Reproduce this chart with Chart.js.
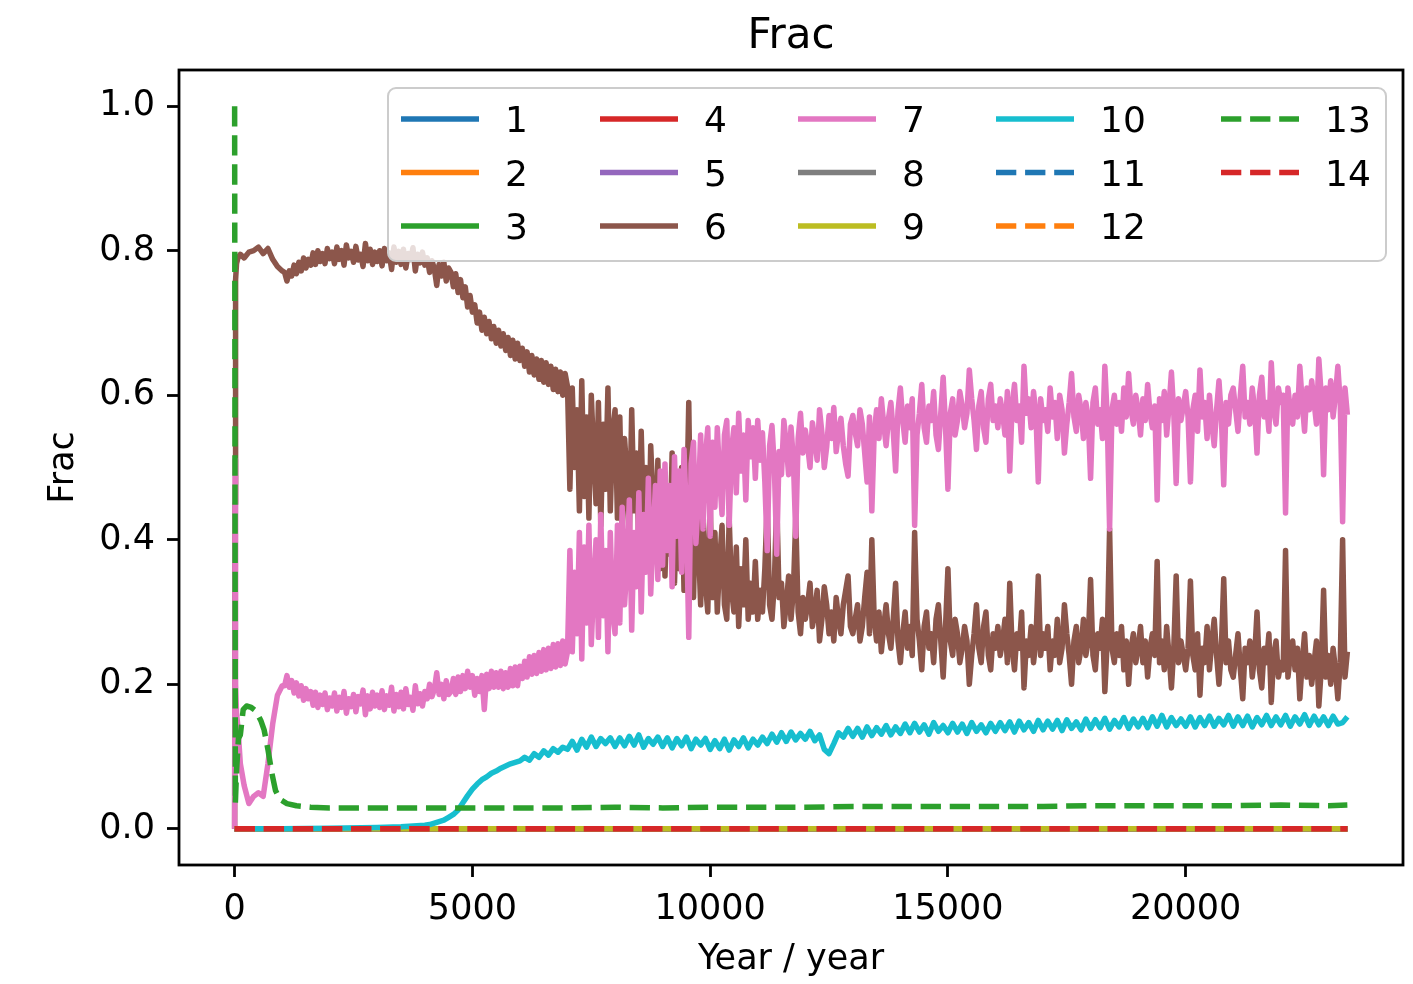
<!DOCTYPE html>
<html>
<head>
<meta charset="utf-8">
<script src="https://cdn.jsdelivr.net/npm/chart.js@4"></script>
<style>
html,body{margin:0;padding:0;background:#fff;}
canvas{display:block;}
</style>
</head>
<body>
<canvas id="c" width="1413" height="984" style="width:1413px;height:984px"></canvas>
<script>
// ---------------- DATA ----------------
const seriesNames = ['1','2','3','4','5','6','7','8','9','10','11','12','13','14'];
const xTicks = [0, 5000, 10000, 15000, 20000];
const yTicks = [0, 0.2, 0.4, 0.6, 0.8, 1.0];

// series that stay at zero (1,2,3,4,5,8,9,11,12,14)
const yearsFlat = [0, 23400];
const fracFlat = [0, 0];

// shared years for series 6 and 7
const yearsMain = [
  0,10,20,40,70,120,200,300,400,500,600,700,800,900,1000,
  1050,1100,1150,1200,1250,1300,1350,1400,1450,1500,1550,1600,1650,1700,1750,1800,1850,1900,1950,2000,
  2050,2100,2150,2200,2250,2300,2350,2400,2450,2500,2550,2600,2650,2700,2750,2800,2850,2900,2950,3000,
  3050,3100,3150,3200,3250,3300,3350,3400,3450,3500,3550,3600,3650,3700,3750,3800,3850,3900,3950,4000,
  4050,4100,4150,4200,4250,4300,4350,4400,4450,4500,4550,4600,4650,4700,4750,4800,4850,4900,4950,5000,
  5050,5100,5150,5200,5250,5300,5350,5400,5450,5500,5550,5600,5650,5700,5750,5800,5850,5900,5950,6000,
  6050,6100,6150,6200,6250,6300,6350,6400,6450,6500,6550,6600,6650,6700,6750,6800,6850,6900,6950,7000,
  7050,7100,7150,7200,7250,7300,7350,7400,7450,7500,7550,7600,7650,7700,7750,7800,7850,7900,7950,8000,
  8050,8100,8150,8200,8250,8300,8350,8400,8450,8500,8550,8600,8650,8700,8750,8800,8850,8900,8950,9000,
  9050,9100,9150,9200,9250,9300,9350,9400,9450,9500,9550,9600,9650,9700,9750,9800,9850,9900,9950,10000,
  10050,10100,10150,10200,10250,10300,10350,10400,10450,10500,10550,10600,10650,10700,10750,10800,10850,10900,10950,11000,
  11050,11100,11150,11200,11250,11300,11350,11400,11450,11500,11550,11600,11650,11700,11750,11800,11850,11900,11950,12000,
  12050,12100,12150,12200,12250,12300,12350,12400,12450,12500,12550,12600,12650,12700,12750,12800,12850,12900,12950,13000,
  13050,13100,13150,13200,13250,13300,13350,13400,13450,13500,13550,13600,13650,13700,13750,13800,13850,13900,13950,14000,
  14050,14100,14150,14200,14250,14300,14350,14400,14450,14500,14550,14600,14650,14700,14750,14800,14850,14900,14950,15000,
  15050,15100,15150,15200,15250,15300,15350,15400,15450,15500,15550,15600,15650,15700,15750,15800,15850,15900,15950,16000,
  16050,16100,16150,16200,16250,16300,16350,16400,16450,16500,16550,16600,16650,16700,16750,16800,16850,16900,16950,17000,
  17050,17100,17150,17200,17250,17300,17350,17400,17450,17500,17550,17600,17650,17700,17750,17800,17850,17900,17950,18000,
  18050,18100,18150,18200,18250,18300,18350,18400,18450,18500,18550,18600,18650,18700,18750,18800,18850,18900,18950,19000,
  19050,19100,19150,19200,19250,19300,19350,19400,19450,19500,19550,19600,19650,19700,19750,19800,19850,19900,19950,20000,
  20050,20100,20150,20200,20250,20300,20350,20400,20450,20500,20550,20600,20650,20700,20750,20800,20850,20900,20950,21000,
  21050,21100,21150,21200,21250,21300,21350,21400,21450,21500,21550,21600,21650,21700,21750,21800,21850,21900,21950,22000,
  22050,22100,22150,22200,22250,22300,22350,22400,22450,22500,22550,22600,22650,22700,22750,22800,22850,22900,22950,23000,
  23050,23100,23150,23200,23250,23300,23350,23400
];

// series 6 (brown)
const frac6 = [
  0,0.45,0.76,0.782,0.79,0.795,0.79,0.798,0.80,0.805,0.796,0.803,0.788,0.778,0.772,
  .770,.758,.772,.765,.780,.768,.784,.772,.790,.776,.788,.780,.797,.781,.800,.785,.796,.782,.803,.789,
  .798,.782,.805,.788,.800,.780,.808,.790,.799,.784,.806,.787,.795,.778,.810,.786,.802,.781,.798,.785,
  .800,.779,.803,.786,.797,.774,.805,.784,.799,.781,.802,.776,.796,.788,.804,.772,.795,.783,.798,.780,
  .790,.770,.786,.775,.752,.781,.765,.784,.758,.776,.770,.750,.768,.742,.760,.735,.750,.722,.738,.715,
  .725,.700,.715,.690,.708,.685,.702,.678,.695,.672,.690,.668,.685,.662,.680,.655,.676,.650,.672,.648,
  .665,.640,.660,.632,.655,.628,.650,.622,.648,.618,.645,.615,.640,.608,.636,.605,.632,.600,.630,.612,
  .47,.61,.50,.58,.44,.62,.46,.57,.43,.60,.52,.45,.59,.42,.56,.47,.61,.44,.55,.58,
  .43,.57,.41,.54,.49,.40,.58,.44,.52,.39,.55,.42,.50,.37,.53,.45,.38,.51,.36,.49,
  .35,.47,.38,.52,.34,.45,.36,.50,.33,.42,.59,.35,.32,.46,.40,.31,.44,.34,.30,.45,
  .32,.41,.30,.37,.42,.31,.29,.43,.33,.30,.39,.28,.36,.31,.40,.29,.34,.30,.37,.29,
  .33,.30,.36,.45,.31,.29,.34,.455,.32,.34,.28,.31,.35,.29,.33,.43,.30,.27,.32,.29,
  .31,.34,.28,.30,.33,.26,.29,.335,.31,.27,.30,.26,.32,.29,.27,.31,.33,.35,.28,.27,
  .29,.31,.26,.28,.32,.355,.27,.40,.29,.26,.30,.245,.28,.31,.27,.25,.29,.34,.26,.23,
  .27,.30,.25,.28,.24,.41,.29,.26,.22,.28,.30,.25,.27,.23,.29,.31,.26,.21,.28,.36,
  .26,.24,.29,.27,.23,.25,.28,.26,.20,.24,.27,.31,.25,.23,.28,.30,.24,.22,.27,.25,
  .28,.24,.26,.29,.23,.34,.25,.22,.27,.25,.30,.195,.26,.24,.28,.23,.26,.35,.24,.27,
  .25,.28,.22,.26,.24,.29,.23,.25,.31,.27,.24,.20,.26,.28,.23,.25,.29,.24,.26,.345,
  .24,.22,.27,.25,.29,.19,.26,.415,.25,.23,.27,.24,.28,.22,.26,.20,.25,.27,.23,.25,
  .28,.23,.26,.21,.25,.27,.24,.37,.23,.26,.22,.28,.24,.195,.25,.35,.23,.26,.24,.22,
  .25,.343,.24,.22,.27,.185,.25,.23,.28,.22,.26,.29,.24,.20,.25,.346,.23,.26,.22,.21,
  .24,.27,.22,.18,.25,.23,.26,.21,.24,.30,.22,.195,.25,.23,.27,.175,.24,.26,.21,.23,
  .22,.385,.21,.24,.26,.22,.25,.18,.23,.27,.21,.24,.20,.23,.26,.17,.22,.33,.21,.24,
  .20,.25,.22,.18,.23,.40,.21,.245
];

// series 7 (pink)
const frac7 = [
  0,0.51,0.20,0.16,0.14,0.09,0.06,0.035,0.045,0.05,0.045,0.09,0.145,0.185,0.198,
  .198,.212,.196,.205,.188,.202,.184,.198,.178,.194,.180,.190,.171,.189,.168,.185,.172,.188,.165,.181,
  .170,.188,.163,.182,.168,.190,.160,.180,.169,.186,.162,.183,.173,.192,.158,.184,.166,.189,.170,.185,
  .168,.191,.165,.184,.171,.196,.163,.186,.169,.189,.166,.194,.172,.182,.164,.198,.173,.187,.170,.190,
  .180,.200,.183,.193,.216,.186,.200,.180,.205,.186,.190,.208,.186,.210,.190,.212,.194,.218,.196,.212,
  .185,.208,.190,.212,.165,.214,.194,.218,.196,.216,.196,.218,.194,.216,.196,.222,.198,.224,.198,.225,
  .208,.232,.210,.238,.214,.240,.215,.244,.218,.248,.220,.250,.222,.255,.224,.256,.226,.260,.228,.245,
  .385,.245,.355,.27,.41,.235,.39,.285,.42,.255,.335,.40,.265,.435,.295,.385,.245,.41,.30,.27,
  .42,.285,.445,.31,.365,.455,.275,.41,.335,.465,.30,.435,.355,.485,.325,.405,.475,.345,.495,.365,
  .505,.385,.475,.335,.515,.405,.495,.355,.525,.435,.265,.505,.535,.395,.455,.545,.415,.515,.555,.405,
  .535,.445,.555,.485,.435,.545,.565,.42,.525,.555,.465,.575,.495,.545,.455,.565,.515,.555,.485,.565,
  .51,.548,.48,.385,.53,.558,.50,.38,.522,.49,.565,.532,.49,.556,.51,.405,.54,.575,.52,.552,
  .53,.50,.562,.538,.51,.58,.548,.50,.528,.572,.54,.583,.522,.55,.568,.53,.505,.488,.56,.572,
  .548,.53,.58,.56,.52,.48,.57,.44,.548,.58,.54,.595,.56,.53,.568,.59,.55,.495,.578,.61,
  .565,.535,.585,.555,.595,.42,.545,.575,.615,.555,.535,.585,.565,.605,.545,.525,.575,.625,.555,.47,
  .575,.595,.545,.565,.605,.585,.555,.575,.635,.595,.565,.525,.585,.605,.555,.535,.595,.615,.565,.585,
  .555,.595,.575,.545,.605,.495,.585,.615,.565,.585,.535,.64,.575,.595,.555,.605,.575,.48,.595,.565,
  .58,.55,.61,.57,.59,.54,.60,.58,.52,.56,.59,.63,.57,.55,.60,.58,.54,.59,.57,.485,
  .59,.61,.56,.58,.54,.64,.57,.415,.58,.60,.56,.59,.55,.61,.57,.63,.58,.56,.60,.58,
  .545,.595,.565,.615,.575,.555,.585,.455,.595,.565,.605,.545,.585,.632,.575,.478,.595,.565,.585,.605,
  .57,.48,.58,.60,.55,.635,.57,.59,.54,.60,.56,.53,.58,.62,.57,.476,.59,.56,.60,.61,
  .58,.55,.60,.64,.57,.59,.56,.61,.58,.52,.60,.625,.57,.59,.55,.645,.58,.56,.61,.59,
  .60,.437,.61,.58,.56,.60,.57,.64,.59,.55,.61,.58,.62,.59,.56,.65,.60,.49,.61,.58,
  .62,.57,.60,.64,.59,.425,.61,.573
];

// series 10 (cyan)
const years10 = [
  0,1000,2000,3000,3500,
  4000,4100,4200,4300,4400,4500,4600,4700,4800,4900,
  5000,5100,5200,5300,5400,5500,5600,5700,5800,5900,
  6000,6100,6200,6300,6400,6500,6600,6700,6800,6900,
  7000,7100,7200,7300,7400,7500,7600,7700,7800,7900,
  8000,8100,8200,8300,8400,8500,8600,8700,8800,8900,
  9000,9100,9200,9300,9400,9500,9600,9700,9800,9900,
  10000,10100,10200,10300,10400,10500,10600,10700,10800,10900,
  11000,11100,11200,11300,11400,11500,11600,11700,11800,11900,
  12000,12100,12200,12300,12400,12500,12600,12700,12800,12900,
  13000,13100,13200,13300,13400,13500,13600,13700,13800,13900,
  14000,14100,14200,14300,14400,14500,14600,14700,14800,14900,
  15000,15100,15200,15300,15400,15500,15600,15700,15800,15900,
  16000,16100,16200,16300,16400,16500,16600,16700,16800,16900,
  17000,17100,17200,17300,17400,17500,17600,17700,17800,17900,
  18000,18100,18200,18300,18400,18500,18600,18700,18800,18900,
  19000,19100,19200,19300,19400,19500,19600,19700,19800,19900,
  20000,20100,20200,20300,20400,20500,20600,20700,20800,20900,
  21000,21100,21200,21300,21400,21500,21600,21700,21800,21900,
  22000,22100,22200,22300,22400,22500,22600,22700,22800,22900,
  23000,23100,23200,23300,23400
];
const frac10 = [
  0,0,0.001,0.002,0.003,
  .005,.006,.008,.010,.012,.016,.020,.026,.036,.046,
  .055,.062,.068,.072,.077,.080,.084,.087,.090,.092,
  .094,.099,.095,.104,.099,.108,.102,.111,.106,.113,
  .110,.121,.109,.124,.113,.127,.114,.125,.118,.126,
  .114,.126,.115,.128,.116,.130,.113,.125,.117,.127,
  .114,.126,.112,.125,.115,.127,.111,.124,.116,.125,
  .110,.122,.111,.124,.109,.123,.114,.126,.112,.124,
  .116,.127,.118,.131,.120,.133,.121,.134,.123,.132,
  .124,.135,.122,.130,.110,.104,.118,.133,.127,.139,
  .128,.139,.127,.141,.129,.140,.131,.143,.130,.141,
  .132,.145,.133,.146,.134,.144,.131,.147,.135,.143,
  .133,.146,.134,.145,.132,.147,.135,.144,.133,.146,
  .135,.147,.136,.148,.134,.149,.137,.147,.135,.150,
  .137,.149,.138,.150,.136,.151,.139,.148,.137,.152,
  .139,.151,.140,.153,.138,.150,.141,.154,.139,.152,
  .141,.153,.140,.155,.142,.157,.141,.154,.143,.152,
  .142,.155,.141,.154,.143,.156,.142,.153,.144,.157,
  .142,.155,.143,.156,.141,.154,.144,.157,.143,.155,
  .144,.157,.142,.155,.145,.158,.143,.156,.144,.155,
  .143,.156,.145,.147,.155
];

// series 13 (green dashed)
const years13 = [
  0,15,40,80,120,180,250,350,450,550,620,700,780,860,950,1100,1300,1600,2000,
  3000,4000,5000,6000,7000,8000,9000,10000,11000,12000,13000,14000,15000,16000,
  17000,18000,19000,20000,21000,22000,23000,23400
];
const frac13 = [
  1.0,0.035,0.08,0.125,0.13,0.165,0.17,0.168,0.163,0.15,0.137,0.11,0.078,0.053,0.041,0.035,0.032,0.030,0.029,
  0.029,0.029,0.029,0.029,0.029,0.030,0.029,0.030,0.030,0.030,0.031,0.031,0.031,0.031,
  0.031,0.032,0.032,0.032,0.032,0.033,0.032,0.033
];

// ---------------- STYLE ----------------
const colors = ['#1f77b4','#ff7f0e','#2ca02c','#d62728','#9467bd','#8c564b','#e377c2',
                '#7f7f7f','#bcbd22','#17becf','#1f77b4','#ff7f0e','#2ca02c','#d62728'];
const dashed = [false,false,false,false,false,false,false,false,false,false,true,true,true,true];
const LW = 5.5;
const DASH = [20.3, 8.8];
const FONT = '"DejaVu Sans"';

const seriesYears = {6: yearsMain, 7: yearsMain, 10: years10, 13: years13};
const seriesFrac = {6: frac6, 7: frac7, 10: frac10, 13: frac13};

const datasets = seriesNames.map((name, i) => {
  const n = i + 1;
  const xs = seriesYears[n] || yearsFlat;
  const ys = seriesFrac[n] || fracFlat;
  return {
    label: name,
    data: xs.map((x, k) => ({x: x, y: ys[k]})),
    borderColor: colors[i],
    backgroundColor: colors[i],
    borderWidth: LW,
    borderDash: dashed[i] ? DASH : [],
    borderJoinStyle: 'round',
    borderCapStyle: 'butt',
    pointRadius: 0,
    pointHoverRadius: 0,
    fill: false,
    tension: 0,
    order: 15 - n
  };
});

Chart.defaults.font.family = FONT;
Chart.defaults.color = '#000';

const decorPlugin = {
  id: 'decor',
  beforeDraw(chart) {
    const ctx = chart.ctx;
    ctx.save();
    ctx.fillStyle = '#fff';
    ctx.fillRect(0, 0, chart.width, chart.height);
    ctx.restore();
  },
  afterDatasetsDraw(chart) {
    const {ctx, chartArea: a} = chart;
    ctx.save();
    ctx.strokeStyle = '#000';
    ctx.lineWidth = 2.8;
    ctx.strokeRect(a.left, a.top, a.right - a.left, a.bottom - a.top);
    ctx.restore();
  },
  afterDraw(chart) {
    const {ctx, chartArea: a} = chart;
    ctx.save();
    // title
    ctx.fillStyle = '#000';
    ctx.font = '42px ' + FONT;
    ctx.textAlign = 'center';
    ctx.textBaseline = 'alphabetic';
    ctx.fillText('Frac', (a.left + a.right) / 2, 48);
    // legend box
    const bx = 388, by = 88, bw = 998, bh = 173, r = 8;
    ctx.beginPath();
    ctx.roundRect(bx, by, bw, bh, r);
    ctx.fillStyle = 'rgba(255,255,255,0.8)';
    ctx.fill();
    ctx.strokeStyle = '#cccccc';
    ctx.lineWidth = 2;
    ctx.stroke();
    const colX = [401, 600, 798, 996, 1221];
    const rowY = [119, 172.5, 226];
    const handleLen = 78;
    ctx.font = '36px ' + FONT;
    ctx.textAlign = 'left';
    ctx.textBaseline = 'middle';
    seriesNames.forEach((name, i) => {
      const col = Math.floor(i / 3), row = i % 3;
      const x0 = colX[col], y0 = rowY[row];
      ctx.beginPath();
      ctx.setLineDash(dashed[i] ? DASH : []);
      ctx.lineCap = 'butt';
      ctx.strokeStyle = colors[i];
      ctx.lineWidth = LW;
      ctx.moveTo(x0, y0);
      ctx.lineTo(x0 + handleLen, y0);
      ctx.stroke();
      ctx.setLineDash([]);
      ctx.fillStyle = '#000';
      ctx.fillText(name, x0 + handleLen + 26, y0 + 4);
    });
    ctx.restore();
  }
};

new Chart(document.getElementById('c'), {
  type: 'line',
  data: { datasets: datasets },
  options: {
    responsive: false,
    animation: false,
    devicePixelRatio: 1,
    events: [],
    layout: { padding: { left: 0, right: 10, top: 70, bottom: 0 } },
    plugins: {
      legend: { display: false },
      tooltip: { enabled: false },
      title: { display: false }
    },
    scales: {
      x: {
        type: 'linear',
        min: -1170,
        max: 24570,
        afterBuildTicks: (s) => { s.ticks = xTicks.map(v => ({value: v})); },
        afterFit: (s) => { s.height = 119; },
        grid: { drawOnChartArea: false, drawTicks: true, tickLength: 12, tickWidth: 2.8, tickColor: '#000', color: '#000' },
        border: { display: false },
        ticks: { font: { size: 35, family: FONT }, color: '#000', padding: 12, maxRotation: 0, autoSkip: false,
                 callback: (v) => String(v) },
        title: { display: true, text: 'Year / year', font: { size: 35, family: FONT }, color: '#000',
                 padding: { top: 0, bottom: 3 } }
      },
      y: {
        type: 'linear',
        min: -0.05,
        max: 1.05,
        afterBuildTicks: (s) => { s.ticks = yTicks.map(v => ({value: v})); },
        afterFit: (s) => { s.width = 179; },
        grid: { drawOnChartArea: false, drawTicks: true, tickLength: 12, tickWidth: 2.8, tickColor: '#000', color: '#000' },
        border: { display: false },
        ticks: { font: { size: 35, family: FONT }, color: '#000', padding: 12, autoSkip: false,
                 callback: (v) => Number(v).toFixed(1) },
        title: { display: true, text: 'Frac', font: { size: 35, family: FONT }, color: '#000',
                 padding: { top: 43, bottom: 0 } }
      }
    }
  },
  plugins: [decorPlugin]
});
</script>
</body>
</html>
